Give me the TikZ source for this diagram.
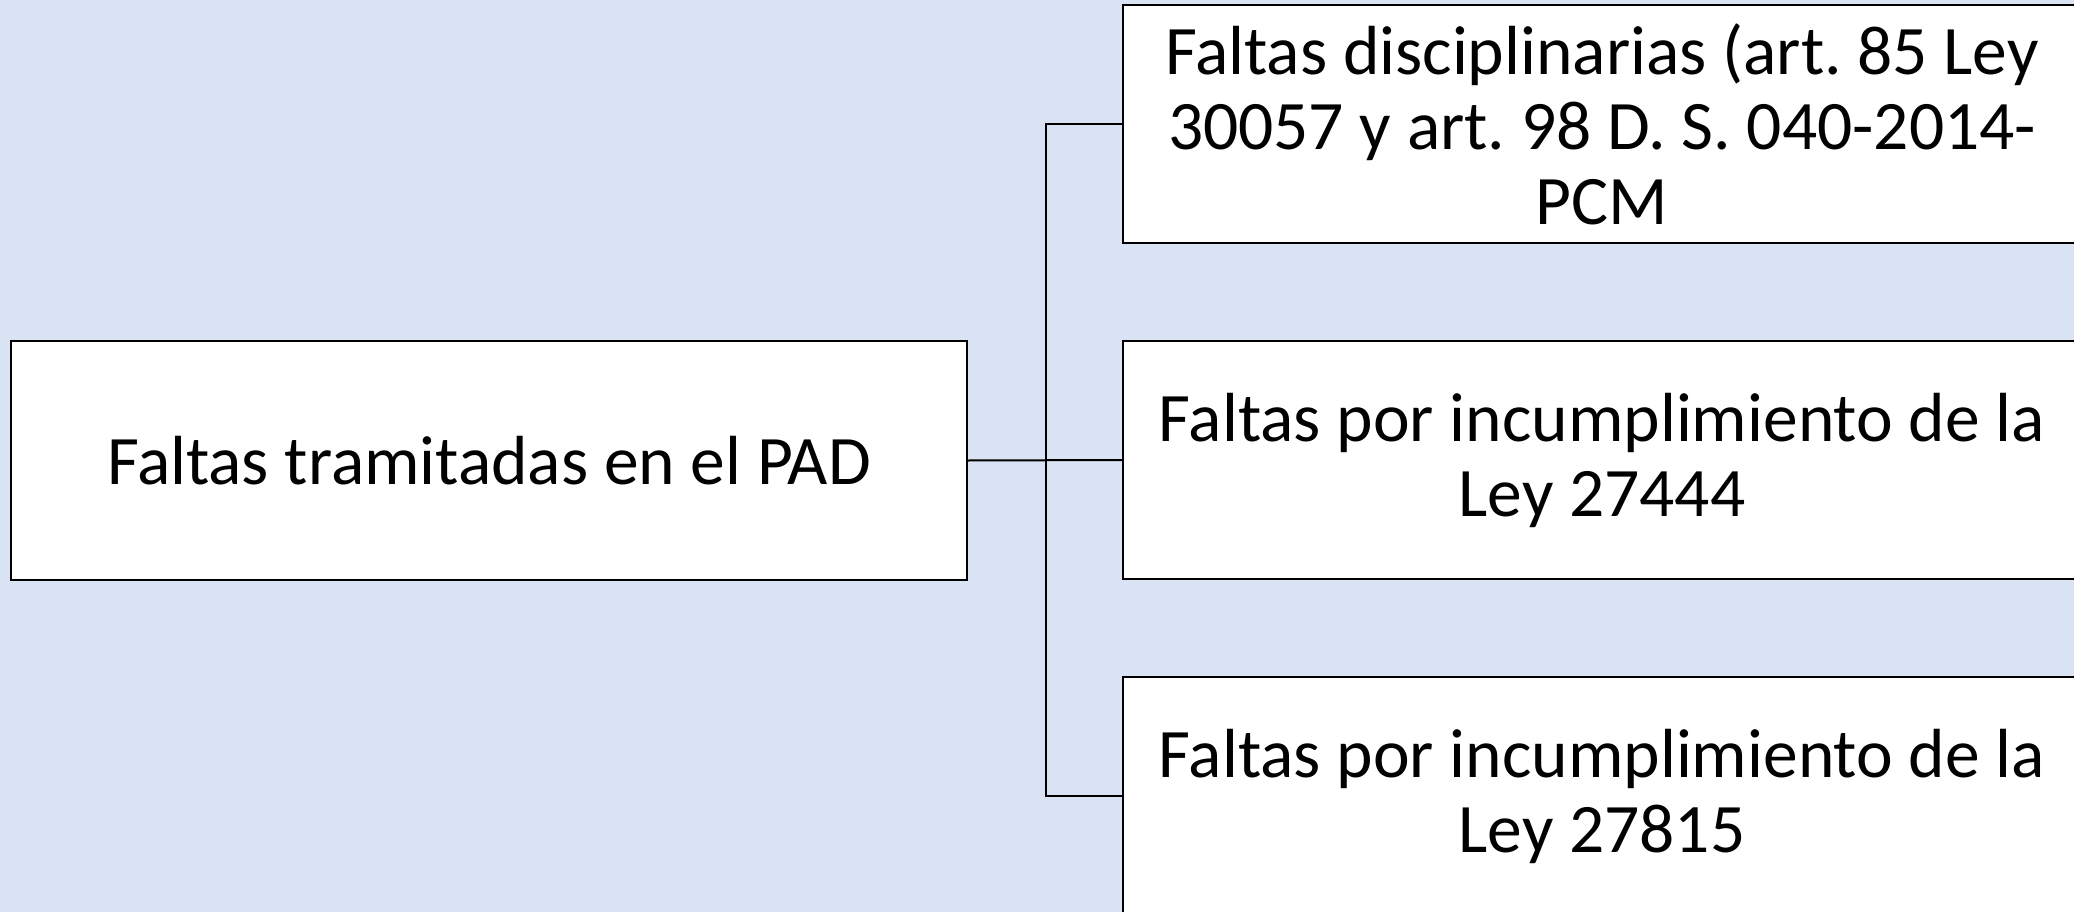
\documentclass[tikz,border=0pt]{standalone}
\usepackage{fontspec}
\setmainfont{Carlito}
\frenchspacing
\definecolor{bg}{HTML}{DAE3F3}
\tikzset{
  box/.style={draw=black, line width=2pt, fill=white, inner sep=0pt, align=center,
    font=\fontsize{69.5}{75}\selectfont},
  conn/.style={draw=black, line width=2pt}
}
\begin{document}
\begin{tikzpicture}[x=1pt,y=-1pt]
\useasboundingbox (0,0) rectangle (2074,912);
\clip (0,0) rectangle (2074,912);
\fill[bg] (0,0) rectangle (2074,912);
\node[box, minimum width=956pt, minimum height=239pt] (L) at (489,460.5) {Faltas tramitadas en el PAD};
\node[box, minimum width=958pt, minimum height=238pt] (R1) at (1602,124) {Faltas disciplinarias (art. 85 Ley\\30057 y art. 98 D. S. 040-2014-\\PCM};
\node[box, minimum width=958pt, minimum height=238pt] (R2) at (1602,460) {Faltas por incumplimiento de la\\Ley 27444};
\node[box, minimum width=958pt, minimum height=238pt] (R3) at (1602,796) {Faltas por incumplimiento de la\\Ley 27815};
\coordinate (j) at (1046,460);
\draw[conn] (L.east) -- (R2.west);
\draw[conn] (R1.west) -| (j) |- (R3.west);
\end{tikzpicture}
\end{document}
